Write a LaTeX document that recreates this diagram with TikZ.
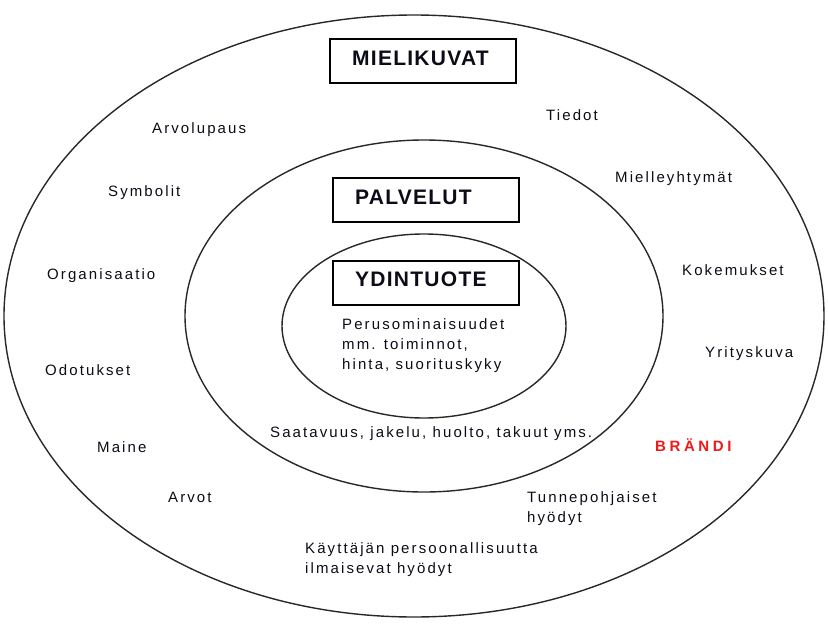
\documentclass[tikz,border=0pt]{standalone}
\usepackage{fontspec}
\setmainfont{Liberation Sans}
\newfontfamily\wideface[LetterSpace=14]{Liberation Sans}
\newfontfamily\headface[LetterSpace=6]{Liberation Sans}
\newfontfamily\brandface[LetterSpace=24]{Liberation Sans}
\definecolor{ringgray}{HTML}{282828}
\definecolor{inktext}{HTML}{0C0C18}
\definecolor{brandred}{HTML}{F01818}
\begin{document}
\begin{tikzpicture}[x=1pt,y=-1pt,
  ring/.style={draw=ringgray, line width=1.4pt},
  titlebox/.style={draw=black, line width=2.4pt, minimum width=186pt, minimum height=44pt, inner sep=0pt},
  headtext/.style={font=\headface\bfseries\fontsize{21}{21}\selectfont, text=inktext, inner sep=0pt, anchor=base west},
  lbl/.style={font=\wideface\fontsize{15}{20}\selectfont, text=inktext, inner sep=0pt, anchor=base west},
  multilbl/.style={lbl, align=left},
  brand/.style={font=\brandface\bfseries\fontsize{15}{15}\selectfont, text=brandred, inner sep=0pt, anchor=base west}
]
\useasboundingbox (0,0) rectangle (828,624);

% three nested rings
\coordinate (outerc) at (414,316);
\coordinate (midc) at (424,316);
\coordinate (innerc) at (424,326);
\draw[ring] (outerc) ellipse [x radius=410, y radius=301];
\draw[ring] (midc) ellipse [x radius=239, y radius=176];
\draw[ring] (innerc) ellipse [x radius=142, y radius=92];

% framed ring titles
\node[titlebox] (mielibox) at (423,61) {};
\node[headtext] (mieli) at (352,65) {MIELIKUVAT};
\node[titlebox] (palvbox) at (426,200) {};
\node[headtext] (palv) at (355,204) {PALVELUT};
\node[titlebox] (ydinbox) at (426,283) {};
\node[headtext] (ydin) at (355,286) {YDINTUOTE};

% core product (multi-line nodes sit on their last baseline)
\node[multilbl] (perus) at (342,369) {Perusominaisuudet\\mm. toiminnot,\\hinta, suorituskyky};
% services ring
\node[lbl] (saat) at (270,437) {Saatavuus, jakelu, huolto, takuut yms.};

% image ring, left side
\node[lbl] (arvolupaus) at (152,133) {Arvolupaus};
\node[lbl] (symbolit) at (108,196) {Symbolit};
\node[lbl] (organisaatio) at (47,279) {Organisaatio};
\node[lbl] (odotukset) at (45,375) {Odotukset};
\node[lbl] (maine) at (97,452) {Maine};
\node[lbl] (arvot) at (168,502) {Arvot};

% image ring, right side
\node[lbl] (tiedot) at (546,120) {Tiedot};
\node[lbl] (mielle) at (615,182) {Mielleyhtymät};
\node[lbl] (kokemukset) at (682,275) {Kokemukset};
\node[lbl] (yrityskuva) at (705,357) {Yrityskuva};
\node[brand] (brandi) at (655,451) {BRÄNDI};
\node[multilbl] (tunne) at (527,522) {Tunnepohjaiset\\hyödyt};
\node[multilbl] (kayttaja) at (305,573) {Käyttäjän persoonallisuutta\\ilmaisevat hyödyt};
\end{tikzpicture}
\end{document}
